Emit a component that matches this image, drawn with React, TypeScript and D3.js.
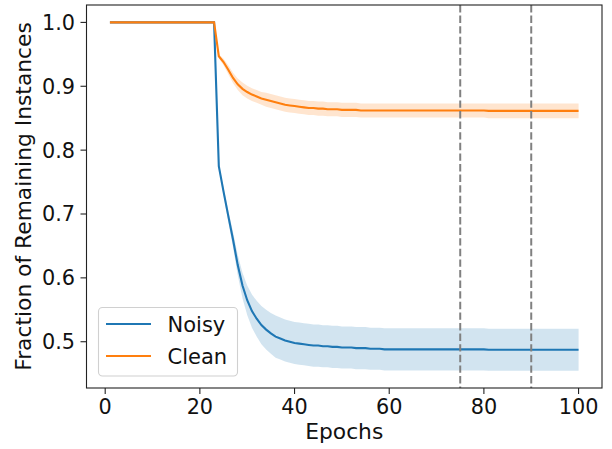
import React from "react";
import * as d3 from "d3";

const epochs: number[] = d3.range(1, 101);

const noisyMean: number[] = [
  1, 1, 1, 1, 1, 1, 1, 1, 1, 1,
  1, 1, 1, 1, 1, 1, 1, 1, 1, 1,
  1, 1, 1, 0.775, 0.735, 0.697, 0.66, 0.62, 0.588, 0.565,
  0.548, 0.536, 0.526, 0.519, 0.513, 0.508, 0.505, 0.502, 0.5, 0.498,
  0.497, 0.496, 0.495, 0.494, 0.494, 0.493, 0.493, 0.492, 0.492, 0.491,
  0.491, 0.491, 0.49, 0.49, 0.49, 0.489, 0.489, 0.489, 0.488, 0.488,
  0.488, 0.488, 0.488, 0.488, 0.488, 0.488, 0.488, 0.488, 0.488, 0.488,
  0.488, 0.488, 0.488, 0.488, 0.488, 0.488, 0.488, 0.488, 0.488, 0.488,
  0.4875, 0.4875, 0.4875, 0.4875, 0.4875, 0.4875, 0.4875, 0.4875, 0.4875, 0.4875,
  0.4875, 0.4875, 0.4875, 0.4875, 0.4875, 0.4875, 0.4875, 0.4875, 0.4875, 0.4875,
];

const noisyStd: number[] = [
  0, 0, 0, 0, 0, 0, 0, 0, 0, 0,
  0, 0, 0, 0, 0, 0, 0, 0, 0, 0,
  0, 0, 0, 0.004, 0.006, 0.009, 0.012, 0.016, 0.02, 0.023,
  0.026, 0.028, 0.03, 0.031, 0.032, 0.033, 0.033, 0.033, 0.033, 0.033,
  0.033, 0.033, 0.033, 0.033, 0.033, 0.033, 0.033, 0.033, 0.033, 0.033,
  0.033, 0.033, 0.033, 0.033, 0.033, 0.033, 0.033, 0.033, 0.033, 0.033,
  0.033, 0.033, 0.033, 0.033, 0.033, 0.033, 0.033, 0.033, 0.033, 0.033,
  0.033, 0.033, 0.033, 0.033, 0.033, 0.033, 0.033, 0.033, 0.033, 0.033,
  0.033, 0.033, 0.033, 0.033, 0.033, 0.033, 0.033, 0.033, 0.033, 0.033,
  0.033, 0.033, 0.033, 0.033, 0.033, 0.033, 0.033, 0.033, 0.033, 0.033,
];

const cleanMean: number[] = [
  1, 1, 1, 1, 1, 1, 1, 1, 1, 1,
  1, 1, 1, 1, 1, 1, 1, 1, 1, 1,
  1, 1, 1, 0.947, 0.938, 0.926, 0.913, 0.903, 0.896, 0.891,
  0.887, 0.884, 0.881, 0.879, 0.877, 0.875, 0.873, 0.871, 0.87, 0.869,
  0.868, 0.867, 0.866, 0.866, 0.865, 0.865, 0.864, 0.864, 0.864, 0.863,
  0.863, 0.863, 0.863, 0.862, 0.862, 0.862, 0.862, 0.862, 0.862, 0.862,
  0.862, 0.862, 0.862, 0.862, 0.862, 0.862, 0.862, 0.862, 0.862, 0.862,
  0.862, 0.862, 0.862, 0.862, 0.862, 0.862, 0.862, 0.862, 0.862, 0.862,
  0.8615, 0.8615, 0.8615, 0.8615, 0.8615, 0.8615, 0.8615, 0.8615, 0.8615, 0.8615,
  0.8615, 0.8615, 0.8615, 0.8615, 0.8615, 0.8615, 0.8615, 0.8615, 0.8615, 0.8615,
];

const cleanStd: number[] = [
  0, 0, 0, 0, 0, 0, 0, 0, 0, 0,
  0, 0, 0, 0, 0, 0, 0, 0, 0, 0,
  0, 0, 0, 0.003, 0.005, 0.007, 0.008, 0.009, 0.01, 0.01,
  0.01, 0.01, 0.01, 0.011, 0.011, 0.011, 0.011, 0.011, 0.011, 0.011,
  0.011, 0.011, 0.011, 0.011, 0.011, 0.011, 0.011, 0.011, 0.011, 0.011,
  0.011, 0.011, 0.011, 0.011, 0.011, 0.011, 0.011, 0.011, 0.011, 0.011,
  0.011, 0.011, 0.011, 0.011, 0.011, 0.011, 0.011, 0.011, 0.011, 0.011,
  0.011, 0.011, 0.011, 0.011, 0.011, 0.011, 0.011, 0.011, 0.011, 0.011,
  0.0115, 0.0115, 0.0115, 0.0115, 0.0115, 0.0115, 0.0115, 0.0115, 0.0115, 0.0115,
  0.0115, 0.0115, 0.0115, 0.0115, 0.0115, 0.0115, 0.0115, 0.0115, 0.0115, 0.0115,
];

const xTicks: number[] = [0, 20, 40, 60, 80, 100];
const yTicks: number[] = [0.5, 0.6, 0.7, 0.8, 0.9, 1.0];
const vLines: number[] = [75, 90];
const seriesNames: string[] = ["Noisy", "Clean"];

const BLUE = "#1f77b4";
const ORANGE = "#ff7f0e";
const FONT = "DejaVu Sans, sans-serif";
const FS_TICK = 20.8;
const FS_LABEL = 21.8;
const FS_LEG = 21;

export default function App() {
  const left = 86.5, right = 602, top = 5, bottom = 388;
  const x = d3.scaleLinear().domain([-3.95, 104.95]).range([left, right]);
  const y = d3.scaleLinear().domain([0.42755, 1.02725]).range([bottom, top]);

  const series = [
    { name: seriesNames[0], mean: noisyMean, std: noisyStd, color: BLUE },
    { name: seriesNames[1], mean: cleanMean, std: cleanStd, color: ORANGE },
  ];

  const idx = epochs.map((_, i) => i);

  return (
    <svg
      width={612}
      height={449}
      style={{ position: "absolute", left: 0, top: 0, background: "#fff" }}
      fontFamily={FONT}
    >
      <rect x={0} y={0} width={612} height={449} fill="#fff" />
      {series.map((s) => {
        const area = d3
          .area<number>()
          .x((i) => x(epochs[i]))
          .y0((i) => y(s.mean[i] - s.std[i]))
          .y1((i) => y(s.mean[i] + s.std[i]));
        return <path key={s.name + "a"} d={area(idx) || ""} fill={s.color} fillOpacity={0.2} stroke="none" />;
      })}
      {series.map((s) => {
        const line = d3
          .line<number>()
          .x((i) => x(epochs[i]))
          .y((i) => y(s.mean[i]));
        return <path key={s.name + "l"} d={line(idx) || ""} fill="none" stroke={s.color} strokeWidth={2.1} />;
      })}
      {vLines.map((v) => (
        <line
          key={v}
          x1={x(v)}
          x2={x(v)}
          y1={top}
          y2={bottom}
          stroke="#808080"
          strokeWidth={2}
          strokeDasharray="7.4,3.2"
        />
      ))}
      <rect x={left} y={top} width={right - left} height={bottom - top} fill="none" stroke="#222" strokeWidth={1.1} />
      {xTicks.map((t) => (
        <g key={t}>
          <line x1={x(t)} x2={x(t)} y1={bottom} y2={bottom + 6} stroke="#222" strokeWidth={1.1} />
          <text x={x(t)} y={414} textAnchor="middle" fontSize={FS_TICK} fill="#111">
            {t}
          </text>
        </g>
      ))}
      {yTicks.map((t) => (
        <g key={t}>
          <line x1={left - 6} x2={left} y1={y(t)} y2={y(t)} stroke="#222" strokeWidth={1.1} />
          <text x={75} y={y(t) + 7.5} textAnchor="end" fontSize={FS_TICK} fill="#111">
            {t.toFixed(1)}
          </text>
        </g>
      ))}
      <text x={(left + right) / 2} y={438.5} textAnchor="middle" fontSize={FS_LABEL} fill="#111">
        Epochs
      </text>
      <text
        transform={`translate(31,${(top + bottom) / 2}) rotate(-90)`}
        textAnchor="middle"
        fontSize={FS_LABEL}
        fill="#111"
      >
        Fraction of Remaining Instances
      </text>
      <g>
        <rect x={98.5} y={307.5} width={139} height={68.5} rx={4} fill="#fff" fillOpacity={0.8} stroke="#d0d0d0" strokeWidth={1.1} />
        {series.map((s, i) => (
          <g key={s.name + "leg"}>
            <line x1={106} x2={151} y1={324 + i * 32} y2={324 + i * 32} stroke={s.color} strokeWidth={2.1} />
            <text x={167.5} y={324 + i * 32 + 7.6} fontSize={FS_LEG} fill="#111">
              {s.name}
            </text>
          </g>
        ))}
      </g>
    </svg>
  );
}
